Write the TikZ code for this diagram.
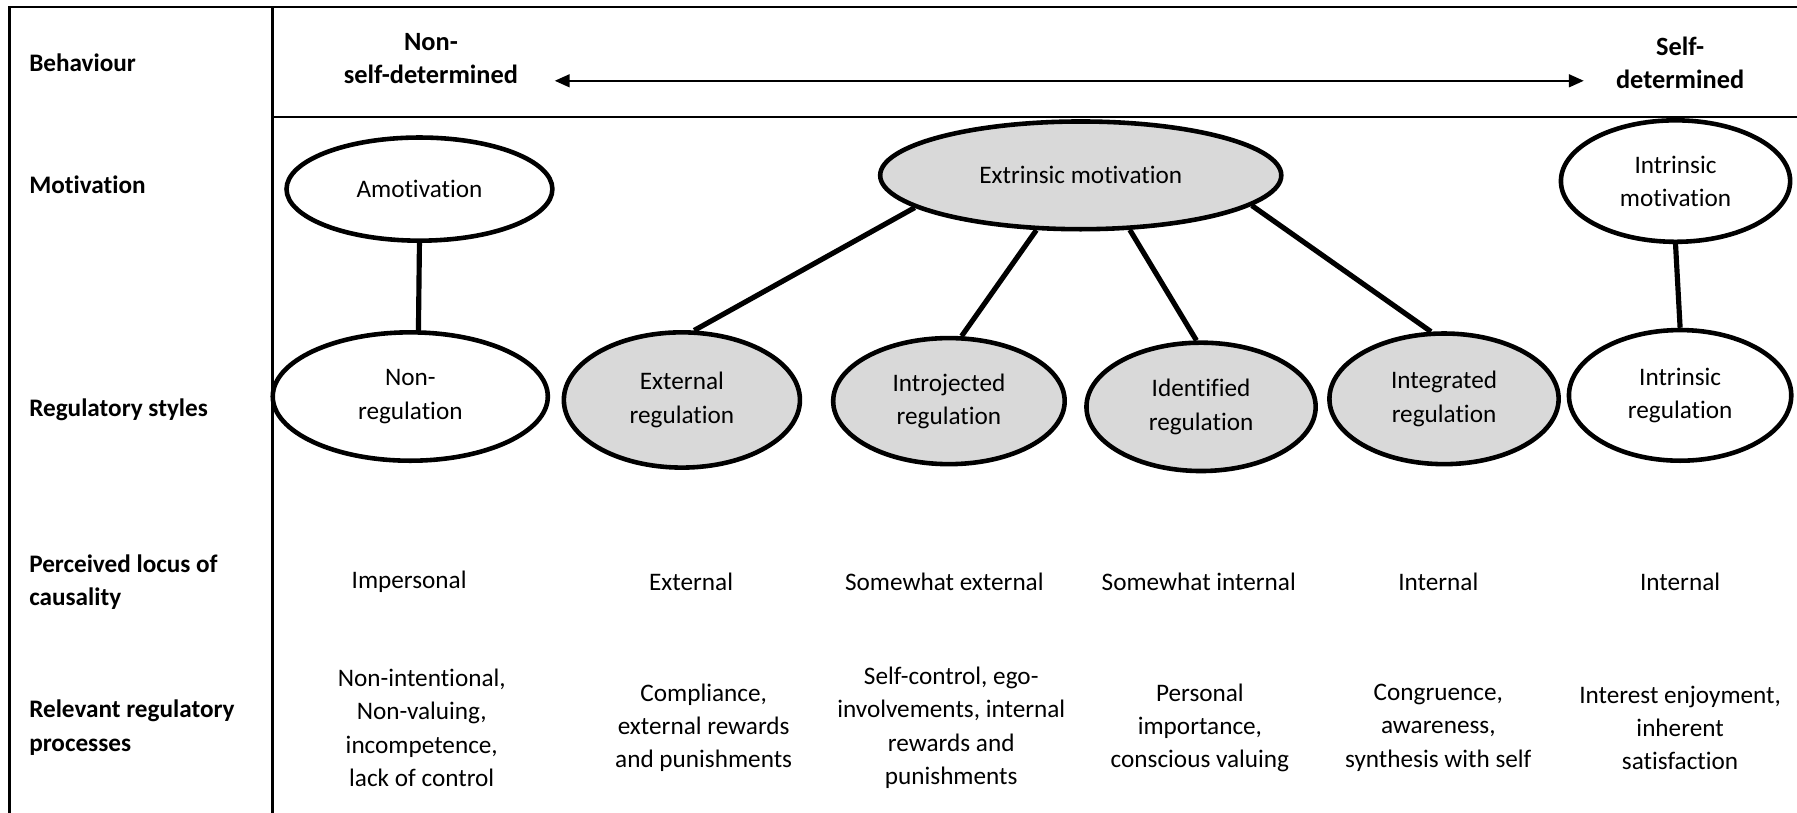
\documentclass[tikz,border=0pt]{standalone}
\usepackage{fontspec}
\setmainfont{Carlito}[Ligatures=NoCommon, RawFeature={-liga;-clig;-calt;-dlig}]
\usetikzlibrary{shapes.geometric,arrows.meta}
\definecolor{ellgray}{HTML}{D9D9D9}
\tikzset{
  ell/.style={draw, ellipse, line width=4pt, inner sep=0pt, align=center,
    font=\fontsize{22}{29}\selectfont},
  gell/.style={ell, fill=ellgray},
  rowlab/.style={anchor=west, align=left, font=\bfseries\fontsize{22}{29}\selectfont},
  head/.style={align=center, font=\bfseries\fontsize{23}{29}\selectfont},
  txt/.style={align=center, font=\fontsize{22}{29}\selectfont},
  conn/.style={line width=4.5pt},
  frame/.style={line width=2.3pt},
}
\begin{document}
\begin{tikzpicture}[x=1pt,y=-1pt]
\useasboundingbox (0,0) rectangle (1568,709);
% frame
\draw[frame] (8.5,712) -- (8.5,6) -- (1570,6);
\draw[frame] (238,6) -- (238,712);
\draw[frame] (238,102) -- (1570,102);
% row labels
\node[rowlab] (lbeh) at (22,55) {Behaviour};
\node[rowlab] (lmot) at (22,161) {Motivation};
\node[rowlab] (lreg) at (22,358) {Regulatory styles};
\node[rowlab] (lloc) at (22,508) {Perceived locus of\\causality};
\node[rowlab] (lproc) at (22,635) {Relevant regulatory\\processes};
% header
\node[head] (nsd) at (376,51) {Non-\\self-determined};
\node[head] (sd) at (1466,55) {Self-\\determined};
\coordinate (arL) at (484,70.5);
\coordinate (arR) at (1382,70.5);
\draw[line width=2.2pt, {Triangle[length=13pt,width=11pt]}-{Triangle[length=13pt,width=11pt]}] (arL) -- (arR);
% motivation ellipses
\node[ell, minimum width=232pt, minimum height=90pt] (amot) at (366,165) {Amotivation};
\node[gell, minimum width=350pt, minimum height=94pt] (extm) at (943,153) {Extrinsic motivation};
\node[ell, minimum width=200pt, minimum height=106pt] (intm) at (1462,158) {Intrinsic\\motivation};
% regulatory ellipses
\node[ell, minimum width=240pt, minimum height=112pt] (nonreg) at (358,346) {Non-\\regulation};
\node[gell, minimum width=206pt, minimum height=118pt] (extreg) at (595,349) {External\\regulation};
\node[gell, minimum width=202pt, minimum height=110pt] (introreg) at (828,350) {Introjected\\regulation};
\node[gell, minimum width=200pt, minimum height=112pt] (identreg) at (1048,355) {Identified\\regulation};
\node[gell, minimum width=200pt, minimum height=114pt] (integreg) at (1260,348) {Integrated\\regulation};
\node[ell, minimum width=194pt, minimum height=114pt] (intreg) at (1466,345) {Intrinsic\\regulation};
% connectors
\draw[conn] (amot.south) -- (nonreg.83);
\draw[conn] (extm.191) -- (extreg.80);
\draw[conn] (extm.231) -- (introreg.79);
\draw[conn] (extm.-48) -- (identreg.94);
\draw[conn] (extm.-10) -- (integreg.101);
\draw[conn] (intm.south) -- (intreg.north);
% locus row
\node[txt] (l1) at (357,508) {Impersonal};
\node[txt] (l2) at (603,508) {External};
\node[txt] (l3) at (824,508) {Somewhat external};
\node[txt] (l4) at (1046,508) {Somewhat internal};
\node[txt] (l5) at (1255,508) {Internal};
\node[txt] (l6) at (1466,508) {Internal};
% processes row
\node[txt] (p1) at (368,635) {Non-intentional,\\Non-valuing,\\incompetence,\\lack of control};
\node[txt] (p2) at (614,635) {Compliance,\\external rewards\\and punishments};
\node[txt] (p3) at (830,635) {Self-control, ego-\\involvements, internal\\rewards and\\punishments};
\node[txt] (p4) at (1047,635) {Personal\\importance,\\conscious valuing};
\node[txt] (p5) at (1255,635) {Congruence,\\awareness,\\synthesis with self};
\node[txt] (p6) at (1466,635) {Interest enjoyment,\\inherent\\satisfaction};
\end{tikzpicture}
\end{document}
